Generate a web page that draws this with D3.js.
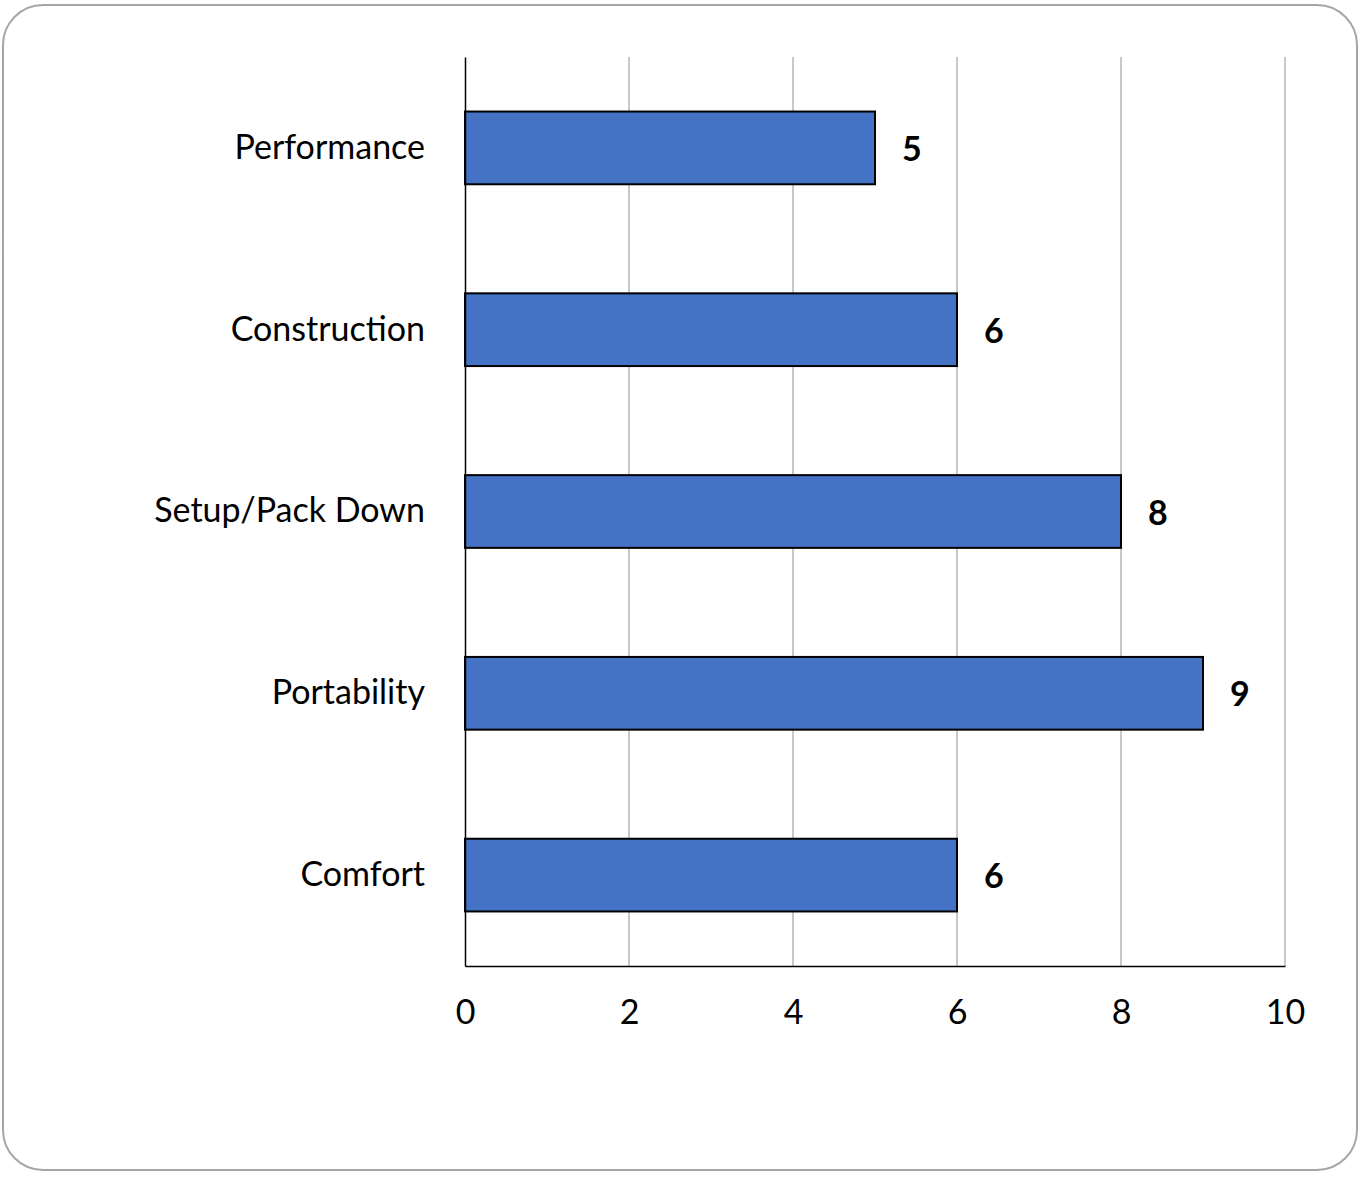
<!DOCTYPE html>
<html>
<head>
<meta charset="utf-8">
<script src="https://cdn.jsdelivr.net/npm/d3@7"></script>
<style>
  body { margin: 0; background: #fff; }
  text { font-family: Lato, "Open Sans", sans-serif; fill: #000; }
</style>
</head>
<body>
<div id="chart"></div>
<script>
// Chart data
var categories = ["Performance", "Construction", "Setup/Pack Down", "Portability", "Comfort"];
var scores = [5, 6, 8, 9, 6];
var xTicks = [0, 2, 4, 6, 8, 10];

var svgWidth = 1365;
var svgHeight = 1177;

var margin = { top: 57, right: 80, bottom: 211, left: 465 };
var width = 1285 - margin.left;
var height = 966 - margin.top;

var svg = d3.select("#chart")
  .append("svg")
  .attr("width", svgWidth)
  .attr("height", svgHeight);

// Rounded frame
svg.append("rect")
  .attr("x", 3).attr("y", 5)
  .attr("width", 1354).attr("height", 1165)
  .attr("rx", 40).attr("ry", 40)
  .attr("fill", "#fff")
  .attr("stroke", "#a6a6a6")
  .attr("stroke-width", 2);

var plotGroup = svg.append("g")
  .attr("transform", `translate(${margin.left}, ${margin.top})`);

var xScale = d3.scaleLinear().domain([0, 10]).range([0, width]);
var yScale = d3.scaleBand().domain(categories).range([0, height]).paddingInner(0.6).paddingOuter(0.3);

// Gridlines
plotGroup.selectAll(".grid")
  .data(xTicks.slice(1))
  .enter()
  .append("line")
  .attr("x1", d => xScale(d)).attr("x2", d => xScale(d))
  .attr("y1", 0).attr("y2", height)
  .attr("stroke", "#c8c8c8")
  .attr("stroke-width", 2);

// Bars
plotGroup.selectAll("rect.bar")
  .data(scores)
  .enter()
  .append("rect")
  .attr("class", "bar")
  .attr("x", 0)
  .attr("y", (d, i) => yScale(categories[i]))
  .attr("width", d => xScale(d))
  .attr("height", yScale.bandwidth())
  .attr("fill", "#4472C4")
  .attr("stroke", "#000")
  .attr("stroke-width", 2);

// Value labels
plotGroup.selectAll("text.val")
  .data(scores)
  .enter()
  .append("text")
  .attr("class", "val")
  .attr("x", d => xScale(d) + 27)
  .attr("y", (d, i) => yScale(categories[i]) + yScale.bandwidth() / 2 + 13)
  .style("font-size", "34px")
  .style("font-weight", "bold")
  .text(d => d);

// Axes
var bottomAxis = d3.axisBottom(xScale).tickValues(xTicks).tickSize(0).tickPadding(34);
var xAxisG = plotGroup.append("g")
  .attr("transform", `translate(0, ${height})`)
  .call(bottomAxis);
xAxisG.select(".domain").attr("stroke", "#000").attr("stroke-width", 1.5);
xAxisG.selectAll("text").style("font-size", "34px").style("font-family", "Lato, sans-serif");

var leftAxis = d3.axisLeft(yScale).tickSize(0).tickPadding(40);
var yAxisG = plotGroup.append("g").call(leftAxis);
yAxisG.select(".domain").attr("stroke", "#000").attr("stroke-width", 1.5);
yAxisG.selectAll("text").style("font-size", "34px").style("font-family", "Lato, sans-serif");
</script>
</body>
</html>
